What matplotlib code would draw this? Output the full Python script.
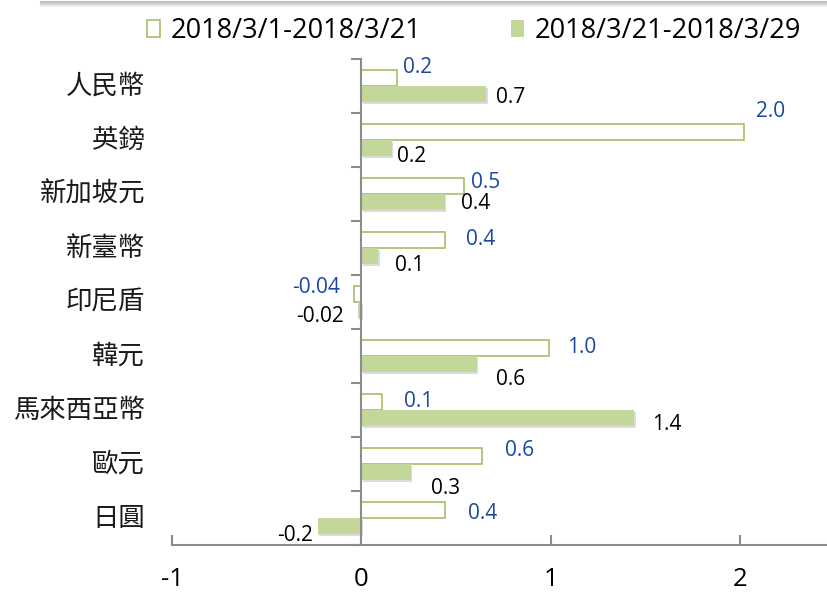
import matplotlib
matplotlib.use('Agg')
import matplotlib.pyplot as plt
import matplotlib.patheffects as pe
from matplotlib.patches import Patch
from matplotlib.lines import Line2D
import numpy as np

plt.rcParams['font.family'] = ['Open Sans', 'Noto Sans CJK TC', 'DejaVu Sans']

categories = ['人民幣', '英鎊', '新加坡元', '新臺幣', '印尼盾', '韓元', '馬來西亞幣', '歐元', '日圓']
series_names = ['2018/3/1-2018/3/21', '2018/3/21-2018/3/29']
# bar lengths
early_vals = [0.19, 2.02, 0.54, 0.44, -0.04, 0.99, 0.11, 0.64, 0.44]
late_vals = [0.66, 0.16, 0.44, 0.09, -0.02, 0.61, 1.44, 0.26, -0.23]
# data labels as printed on the chart
early_labels = ['0.2', '2.0', '0.5', '0.4', '-0.04', '1.0', '0.1', '0.6', '0.4']
late_labels = ['0.7', '0.2', '0.4', '0.1', '-0.02', '0.6', '1.4', '0.3', '-0.2']
xticks = [-1, 0, 1, 2]

# label nudges in pixels (dx from bar end, dy downward from bar centre)
early_offsets = [(6, -10), (12, -20), (7, -3), (21, 0), (-14, -6), (18, 0), (22, 0), (23, -5), (23, 4)]
late_offsets = [(10, 3), (5, 8), (16, 1), (17, 9), (-14, 6), (19, 15), (18, 6), (20, 16), (-5, 9)]

GREEN_FILL = '#c4d79b'
GREEN_EDGE = '#9bbb59'
BLUE = '#1a48a0'
GRAY = '#8c8c8c'

fig = plt.figure(figsize=(8.27, 5.94), dpi=100)
ax = fig.add_axes([172 / 827, 1 - 545 / 594, 655 / 827, 486 / 594])

y = np.arange(len(categories))
h = 0.3
ax.barh(y - h / 2, early_vals, height=h, color='white', edgecolor=GREEN_EDGE, linewidth=1.1, zorder=3)
bars2 = ax.barh(y + h / 2, late_vals, height=h, color=GREEN_FILL, edgecolor='none', zorder=3)
for b in bars2:
    b.set_path_effects([pe.SimplePatchShadow(offset=(1.2, -1.5), shadow_rgbFace='#777777', alpha=0.25),
                        pe.Normal()])

ax.set_xlim(-1, 2.46)
ax.set_ylim(len(categories) - 0.5, -0.5)

for spine in ['top', 'right']:
    ax.spines[spine].set_visible(False)
ax.spines['left'].set_position(('data', 0))
ax.spines['left'].set_color(GRAY)
ax.spines['left'].set_linewidth(1.5)
ax.spines['bottom'].set_color(GRAY)
ax.spines['bottom'].set_linewidth(1.5)
ax.spines['left'].set_zorder(4)

ax.set_xticks(xticks)
ax.set_xticklabels([str(t) for t in xticks])
ax.tick_params(axis='x', direction='in', length=7, width=1.5, color=GRAY, labelsize=18.5, pad=16)
ax.set_yticks(y)
ax.set_yticks(np.arange(-0.5, len(categories), 1.0), minor=True)
ax.tick_params(axis='y', which='major', length=0, labelleft=False)
ax.tick_params(axis='y', which='minor', direction='out', length=7, width=1.5, color=GRAY)

for i, name in enumerate(categories):
    ax.text(-27 / 655, i, name, transform=ax.get_yaxis_transform(), ha='right', va='center',
            fontsize=19, fontweight='light', color='#1a1a1a',
            family=['Noto Sans CJK TC', 'DejaVu Sans'])

for vals, labels, offs, color, shift in [(early_vals, early_labels, early_offsets, BLUE, -h / 2),
                                          (late_vals, late_labels, late_offsets, 'black', h / 2)]:
    for i, (v, lab, (dx, dy)) in enumerate(zip(vals, labels, offs)):
        ax.annotate(lab, xy=(v, i + shift), xytext=(dx * 0.72, -dy * 0.72), textcoords='offset points',
                    ha='left' if dx > 0 else 'right', va='center', fontsize=15, color=color, zorder=5)

handles = [Patch(facecolor='white', edgecolor=GREEN_EDGE, linewidth=1.1),
           Patch(facecolor=GREEN_FILL, edgecolor='none')]
fig.legend(handles, series_names, loc='center', bbox_to_anchor=(474 / 827, 1 - 31 / 594), ncol=2,
           frameon=False, fontsize=19.5, handlelength=0.47, handleheight=0.62, handletextpad=0.4,
           columnspacing=3.3)

# shadow of the box edge at the very top
for k in range(6):
    fig.add_artist(Line2D([40 / 827, 1], [1 - (k + 0.5) / 594] * 2, color='#888888',
                          alpha=0.55 * (1 - k / 6), linewidth=0.8, transform=fig.transFigure))

fig.savefig('out.png', dpi=100)
